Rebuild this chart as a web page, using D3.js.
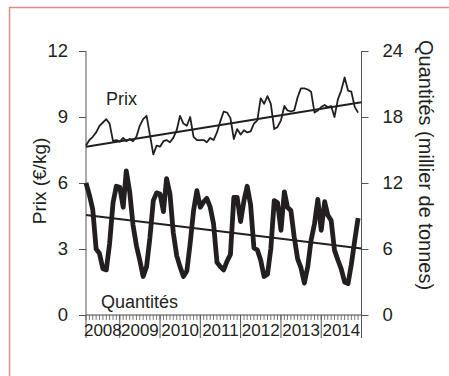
<!DOCTYPE html>
<html>
<head>
<meta charset="utf-8">
<script src="https://cdnjs.cloudflare.com/ajax/libs/d3/7.8.5/d3.min.js"></script>
<style>
  body { margin: 0; background: #fff; }
  svg { display: block; font-family: "Liberation Sans", Arial, sans-serif; }
</style>
</head>
<body>
<script>
// monthly series, March 2008 -> December 2014
var startMonth = new Date(2008, 2, 1)
var endMonth = new Date(2015, 0, 1)

var prix = [7.7, 7.95, 8.1, 8.3, 8.6, 8.75, 8.9, 8.7, 7.9, 7.95,
  7.88, 8.05, 7.9, 8.0, 7.9, 8.1, 8.6, 8.9, 9.05, 8.2,
  7.3, 7.7, 7.65, 7.9, 7.95, 7.85, 8.05, 8.4, 9.05, 8.7,
  8.6, 9.0, 8.1, 7.95, 7.95, 7.95, 7.85, 8.05, 7.95, 8.3,
  8.8, 9.25, 9.2, 8.95, 8.0, 8.45, 8.2, 8.4, 8.3, 8.35,
  8.7, 8.85, 9.85, 9.6, 9.95, 9.6, 8.45, 8.55, 8.85, 9.5,
  9.3, 9.25, 9.3, 9.9, 10.3, 10.3, 10.25, 10.15, 9.2, 9.3,
  9.45, 9.55, 9.45, 9.5, 9.0, 9.8, 10.2, 10.8, 10.2, 10.15,
  9.45, 9.2]

var quantites = [12.0, 10.9, 9.6, 6.0, 5.6, 4.2, 4.1, 6.5, 10.2, 11.7,
  11.6, 9.8, 13.1, 11.2, 8.2, 6.3, 5.0, 3.5, 4.4, 7.0,
  10.4, 11.1, 11.0, 9.4, 12.4, 11.0, 7.5, 5.4, 4.4, 3.5,
  4.0, 6.5, 9.5, 11.3, 9.8, 10.3, 10.6, 9.8, 8.3, 4.8,
  4.4, 4.1, 4.9, 5.5, 10.7, 10.7, 8.5, 10.4, 11.7, 10.0,
  6.1, 5.9, 5.0, 3.5, 3.7, 6.0, 10.4, 10.2, 7.7, 11.2,
  9.8, 9.5, 7.1, 5.1, 4.3, 2.9, 4.4, 6.8, 8.3, 10.5,
  7.7, 10.3, 9.1, 8.6, 5.9, 5.0, 4.2, 3.0, 2.85, 4.6,
  6.8, 8.8]

// linear trends, value at start and at end of the period
var prixTrend = [7.65, 9.67]
var quantitesTrend = [9.1, 6.05]

var prixTicks = [0, 3, 6, 9, 12]
var quantitesTicks = [0, 6, 12, 18, 24]
var years = [2008, 2009, 2010, 2011, 2012, 2013, 2014]

var width = 449, height = 376
var ink = "#231f20"

var svg = d3.select("body").append("svg")
    .attr("width", width)
    .attr("height", height)

// frame
svg.append("rect")
    .attr("x", 9.5)
    .attr("y", 7.5)
    .attr("width", width + 10)
    .attr("height", height + 10)
    .attr("fill", "none")
    .attr("stroke", "#e08a8a")
    .attr("stroke-width", 1.5)

var x = d3.scaleTime()
    .domain([startMonth, endMonth])
    .range([86, 361.5])
var yPrix = d3.scaleLinear().domain([0, 12]).range([315, 51])
var yQuant = d3.scaleLinear().domain([0, 24]).range([315, 51])

var months = prix.map(function(d, i) { return d3.timeMonth.offset(startMonth, i) })

// left axis
var leftAxis = svg.append("g")
    .attr("transform", "translate(86,0)")
    .call(d3.axisLeft(yPrix).tickValues(prixTicks).tickSize(7).tickSizeOuter(0).tickPadding(11))
leftAxis.select(".domain").remove()

// right axis
var rightAxis = svg.append("g")
    .attr("transform", "translate(361.5,0)")
    .call(d3.axisRight(yQuant).tickValues(quantitesTicks).tickSize(7).tickSizeOuter(0).tickPadding(14))
rightAxis.select(".domain").remove()

svg.selectAll(".tick text")
    .attr("font-size", "18.5px")
    .attr("fill", ink)
    .attr("font-family", "Liberation Sans, Arial, sans-serif")
svg.selectAll(".tick line").attr("stroke", "#555")

// vertical axis lines down to the bottom of the year band
svg.append("line")
    .attr("x1", 86).attr("x2", 86)
    .attr("y1", yPrix(12)).attr("y2", 338)
    .attr("stroke", "#555")
svg.append("line")
    .attr("x1", 361.5).attr("x2", 361.5)
    .attr("y1", yPrix(12)).attr("y2", 338)
    .attr("stroke", "#555")

// bottom axis: month ticks, year dividers, year labels
var bottom = svg.append("g").attr("transform", "translate(0,315)")
bottom.append("line")
    .attr("x1", 86).attr("x2", 361.5)
    .attr("stroke", "#444")
bottom.selectAll(".month")
    .data(d3.timeMonth.range(startMonth, endMonth))
    .enter().append("line")
    .attr("class", "month")
    .attr("x1", function(d) { return x(d) })
    .attr("x2", function(d) { return x(d) })
    .attr("y1", 0).attr("y2", 5)
    .attr("stroke", "#555")
    .attr("stroke-width", 0.8)
bottom.selectAll(".year")
    .data(d3.timeYear.range(new Date(2009, 0, 1), endMonth))
    .enter().append("line")
    .attr("class", "year")
    .attr("x1", function(d) { return x(d) })
    .attr("x2", function(d) { return x(d) })
    .attr("y1", 0).attr("y2", 23)
    .attr("stroke", "#555")
bottom.selectAll(".yearLabel")
    .data(years)
    .enter().append("text")
    .attr("class", "yearLabel")
    .attr("x", function(d) {
      var a = Math.max(x(new Date(d, 0, 1)), x(startMonth))
      var b = x(new Date(d + 1, 0, 1))
      return (a + b) / 2
    })
    .attr("y", 21)
    .attr("text-anchor", "middle")
    .attr("font-size", "17px")
    .attr("fill", ink)
    .text(function(d) { return d })

// trend lines
var ends = [startMonth, endMonth]
svg.append("line")
    .attr("x1", x(ends[0])).attr("y1", yPrix(prixTrend[0]))
    .attr("x2", x(ends[1])).attr("y2", yPrix(prixTrend[1]))
    .attr("stroke", ink)
    .attr("stroke-width", 2)
svg.append("line")
    .attr("x1", x(ends[0])).attr("y1", yQuant(quantitesTrend[0]))
    .attr("x2", x(ends[1])).attr("y2", yQuant(quantitesTrend[1]))
    .attr("stroke", ink)
    .attr("stroke-width", 2)

// series
var prixLine = d3.line()
    .x(function(d, i) { return x(months[i]) })
    .y(function(d) { return yPrix(d) })
var quantLine = d3.line()
    .x(function(d, i) { return x(months[i]) })
    .y(function(d) { return yQuant(d) })

svg.append("path")
    .datum(prix)
    .attr("d", prixLine)
    .attr("fill", "none")
    .attr("stroke", ink)
    .attr("stroke-width", 1.8)
    .attr("stroke-linejoin", "round")
svg.append("path")
    .datum(quantites)
    .attr("d", quantLine)
    .attr("fill", "none")
    .attr("stroke", ink)
    .attr("stroke-width", 4.8)
    .attr("stroke-linejoin", "round")

// series labels
svg.append("text")
    .attr("x", 106)
    .attr("y", 105)
    .attr("font-size", "18px")
    .attr("fill", ink)
    .text("Prix")
svg.append("text")
    .attr("x", 101)
    .attr("y", 308)
    .attr("font-size", "18px")
    .attr("fill", ink)
    .text("Quantités")

// axis titles
svg.append("text")
    .attr("transform", "translate(46,181) rotate(-90)")
    .attr("text-anchor", "middle")
    .attr("font-size", "19px")
    .attr("fill", ink)
    .text("Prix (€/kg)")
svg.append("text")
    .attr("transform", "translate(419,165) rotate(90)")
    .attr("text-anchor", "middle")
    .attr("font-size", "20px")
    .attr("fill", ink)
    .text("Quantités (millier de tonnes)")
</script>
</body>
</html>
